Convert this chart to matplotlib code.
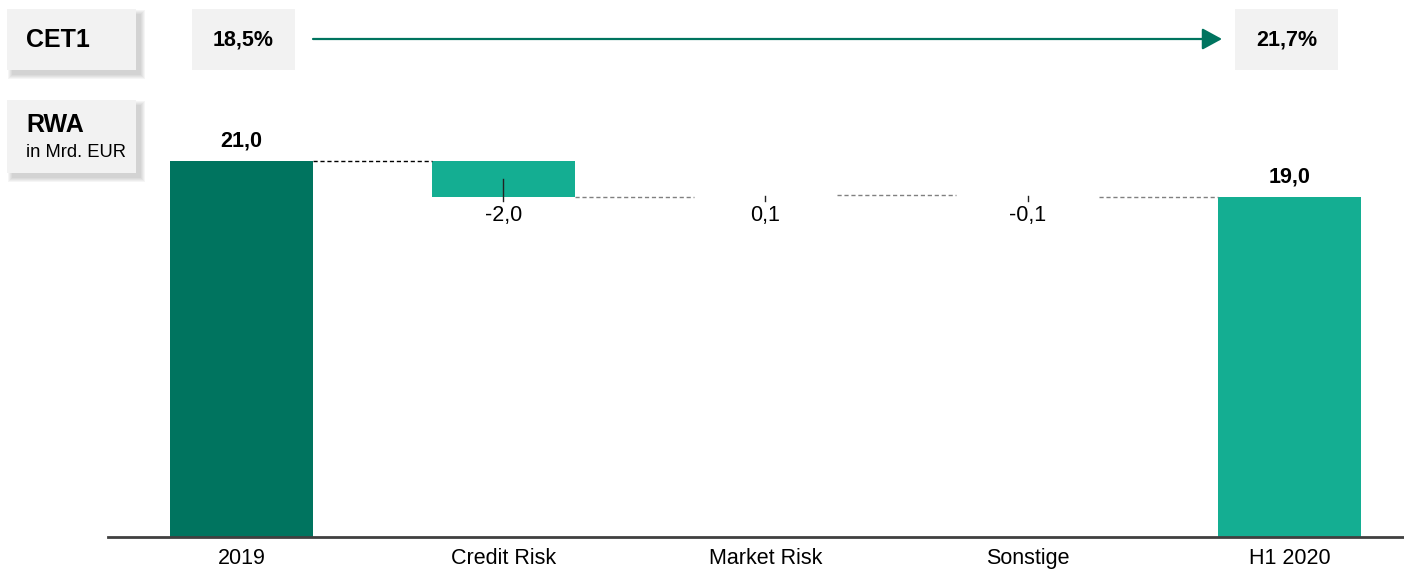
import matplotlib.pyplot as plt
from matplotlib.patches import Rectangle, FancyArrowPatch

plt.rcParams['font.family'] = ['Liberation Sans', 'DejaVu Sans']

categories = ['2019', 'Credit Risk', 'Market Risk', 'Sonstige', 'H1 2020']
rwa_start = 21.0
rwa_changes = [-2.0, 0.1, -0.1]
rwa_end = 19.0
cet1_start = '18,5%'
cet1_end = '21,7%'

dark = '#00745F'
light = '#14AE92'
boxgrey = '#F2F2F2'

W, H = 1404, 570
fig = plt.figure(figsize=(W / 100, H / 100), dpi=100)

# axes placed in pixels: baseline at y=537, 25 units tall
ax = fig.add_axes([108 / W, 1 - 537 / H, 1296 / W, 447.5 / H])
ax.set_ylim(0, 25)
ax.set_xlim(-0.5095, 4.437)
bw = 0.546

def fmt(v):
    return f'{v:.1f}'.replace('.', ',')

# totals
ax.bar(0, rwa_start, width=bw, color=dark)
ax.bar(4, rwa_end, width=bw, color=light)
ax.annotate(fmt(rwa_start), (0, rwa_start), xytext=(0, 7), textcoords='offset points',
            ha='center', va='bottom', fontsize=15.5, fontweight='bold')
ax.annotate(fmt(rwa_end), (4, rwa_end), xytext=(0, 7), textcoords='offset points',
            ha='center', va='bottom', fontsize=15.5, fontweight='bold')

# deltas
level = rwa_start
levels = [level]
for i, d in enumerate(rwa_changes, start=1):
    lo, hi = min(level, level + d), max(level, level + d)
    # small moves are left unfilled
    fc = light if abs(d) >= 0.5 else 'none'
    ax.bar(i, hi - lo, bottom=lo, width=bw, color=fc)
    ax.plot([i, i], [(lo + hi) / 2, lo - 0.23], color='#222222', lw=1)
    ax.text(i, lo - 1.05, fmt(d), ha='center', va='center', fontsize=15.5)
    level += d
    levels.append(level)

# connectors between bars
for i, lv in enumerate(levels):
    col = 'black' if i == 0 else '#808080'
    ax.plot([i + bw / 2, i + 1 - bw / 2], [lv, lv], ls=(0, (3, 2)), lw=1, color=col)

ax.set_xticks(range(len(categories)))
ax.set_xticklabels(categories, fontsize=15.5)
ax.tick_params(axis='x', length=0, pad=8)
ax.set_yticks([])
for s in ['top', 'left', 'right']:
    ax.spines[s].set_visible(False)
ax.spines['bottom'].set_color('#404040')
ax.spines['bottom'].set_linewidth(2)


def box(x, top, w, h, shadow=False):
    y = H - top - h
    if shadow:
        # soft drop shadow to the lower right
        for k in range(5, 0, -1):
            fig.patches.append(Rectangle((x + 5 - k + 1, y - 5 - k + 1), w + 2 * k - 2, h + 2 * k - 2,
                                         transform=None, facecolor='#606060', alpha=0.06,
                                         edgecolor='none', zorder=1))
    fig.patches.append(Rectangle((x, y), w, h, transform=None, facecolor=boxgrey,
                                 edgecolor='none', zorder=2))


def ftext(x, ytop, s, **kw):
    fig.text(x / W, 1 - ytop / H, s, va='center', **kw)


box(7, 9, 129, 61, shadow=True)
box(7, 100, 129, 73, shadow=True)
box(192, 9, 103, 61)
box(1235, 9, 103, 61)

ftext(26, 40, 'CET1', fontsize=18, fontweight='bold', ha='left')
ftext(26, 125, 'RWA', fontsize=18, fontweight='bold', ha='left')
ftext(26, 153, 'in Mrd. EUR', fontsize=13.2, ha='left')
ftext(243.5, 40, cet1_start, fontsize=15.5, fontweight='bold', ha='center')
ftext(1286.5, 40, cet1_end, fontsize=15.5, fontweight='bold', ha='center')

arrow = FancyArrowPatch((313, H - 39), (1222, H - 39), transform=None,
                        arrowstyle='-|>,head_length=0.55,head_width=0.3',
                        mutation_scale=22, color=dark, lw=1.6, shrinkA=0, shrinkB=0)
fig.patches.append(arrow)

fig.savefig('out.png', dpi=100)
